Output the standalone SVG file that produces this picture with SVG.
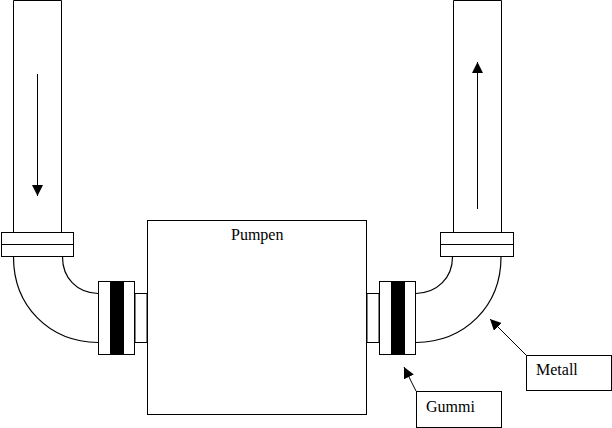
<svg xmlns="http://www.w3.org/2000/svg" width="612" height="428" viewBox="0 0 612 428">
<style>
.s{fill:#fff;stroke:#000;stroke-width:1}
.l{fill:none;stroke:#000;stroke-width:1}
.c{fill:none;stroke:#000;stroke-width:1.2}
.b{fill:#000;stroke:none}
text{font-family:"Liberation Serif","Times New Roman",serif;font-size:16px;fill:#000}
</style>
<defs>
<marker id="a" markerUnits="userSpaceOnUse" markerWidth="12" markerHeight="14" refX="11" refY="5.5" orient="auto"><path d="M0 0L11 5.5L0 11Z" fill="#000"/></marker>
</defs>
<rect width="612" height="428" fill="#fff"/>
<g id="pipe-left">
<path class="l" d="M13.5 232V0.5H61.5V232"/>
<rect class="s" x="1.5" y="232.5" width="72" height="24"/>
<path class="l" d="M1.5 244.5H73.5"/>
<path class="c" d="M13.5 257C13.5 306 49 342 98 342.5"/>
<path class="c" d="M62.5 257C62.5 278 77 293 98 293.5"/>
</g>
<g id="coupling-left">
<rect class="s" x="98.5" y="281.5" width="36" height="73"/>
<rect class="b" x="110" y="281" width="14" height="74"/>
<rect class="s" x="135" y="293.5" width="12" height="49"/>
</g>
<g id="pump">
<rect class="s" x="147.5" y="220.5" width="219" height="194"/>
<text x="231" y="240">Pumpen</text>
</g>
<g id="coupling-right">
<rect class="s" x="367" y="293.5" width="12" height="49"/>
<rect class="s" x="379.5" y="281.5" width="36" height="73"/>
<rect class="b" x="391" y="281" width="14" height="74"/>
</g>
<g id="pipe-right">
<path class="l" d="M453.5 232V0.5H501.5V232"/>
<rect class="s" x="440.5" y="232.5" width="73" height="24"/>
<path class="l" d="M440.5 244.5H513.5"/>
<path class="c" d="M452.5 257C452.5 278 437 293 416 293.5"/>
<path class="c" d="M501 257C501 306 465 342 416 342.5"/>
</g>
<g id="label-metall">
<rect class="s" x="526.5" y="355.5" width="85" height="35"/>
<text x="536" y="375">Metall</text>
</g>
<g id="label-gummi">
<rect class="s" x="416.5" y="391.5" width="85" height="36"/>
<text x="426" y="412">Gummi</text>
</g>
<g id="connectors">
<path class="l" d="M37.5 74V196" marker-end="url(#a)"/>
<path class="l" d="M477.5 209V62" marker-end="url(#a)"/>
<path class="l" d="M526 355L490 319" marker-end="url(#a)"/>
<path class="l" d="M416 391L404 367" marker-end="url(#a)"/>
</g>
</svg>
